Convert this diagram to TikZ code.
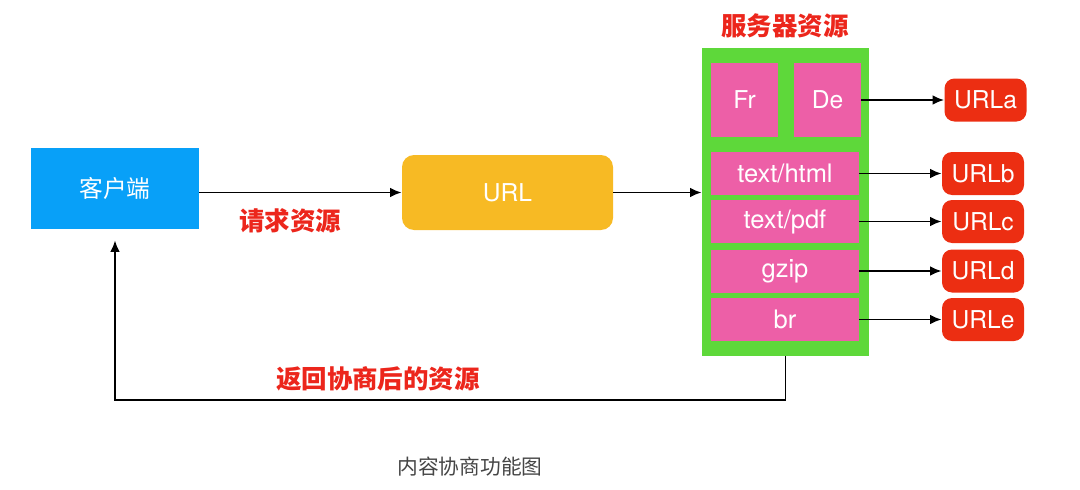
\documentclass[tikz,border=0pt]{standalone}
\usepackage{fontspec}
\setmainfont{TeX Gyre Heros}
\newfontfamily\cjk{Noto Sans CJK SC}
\usetikzlibrary{arrows.meta}

\definecolor{clientblue}{RGB}{8,160,248}
\definecolor{urlyellow}{RGB}{247,186,36}
\definecolor{servergreen}{RGB}{94,216,58}
\definecolor{typepink}{RGB}{237,95,167}
\definecolor{urlred}{RGB}{236,46,18}
\definecolor{labelred}{RGB}{236,38,28}
\definecolor{captiongray}{RGB}{70,70,70}

\begin{document}
\begin{tikzpicture}[x=0.02cm, y=-0.02cm,
    box/.style={inner sep=0pt, text=white, font=\fontsize{14}{16}\selectfont},
    typebox/.style={box, fill=typepink, minimum width=148*0.02cm, minimum height=43*0.02cm, font=\fontsize{14.5}{16}\selectfont},
    urlbox/.style={box, fill=urlred, rounded corners=0.2cm, minimum width=82*0.02cm, minimum height=43*0.02cm},
    redlabel/.style={text=labelred, font=\cjk\bfseries\fontsize{14.5}{16}\selectfont},
    link/.style={line width=1.1pt, -{Latex[length=6.5pt,width=5.5pt]}}]
    \useasboundingbox (0,0) rectangle (1080,490);

    \node[box, fill=clientblue, minimum width=168*0.02cm, minimum height=81*0.02cm, font=\cjk\fontsize{13.5}{16}\selectfont] (client) at (115,188.5) {客户端};
    \node[box, fill=urlyellow, rounded corners=0.24cm, minimum width=211*0.02cm, minimum height=75*0.02cm] (url) at (507.5,192.5) {URL};

    \node[fill=servergreen, inner sep=0pt, minimum width=167*0.02cm, minimum height=308*0.02cm] (server) at (785.5,202) {};
    \node[redlabel] (servertitle) at (785,26) {服务器资源};

    \node[box, fill=typepink, minimum width=67*0.02cm, minimum height=74*0.02cm] (fr) at (744.5,100) {Fr};
    \node[box, fill=typepink, minimum width=67*0.02cm, minimum height=74*0.02cm] (de) at (827.5,100) {De};
    \node[typebox] (html) at (785,173.5) {text/html};
    \node[typebox] (pdf) at (785,221.5) {text/pdf};
    \node[typebox] (gzip) at (785,271) {gzip};
    \node[typebox] (br) at (785,319.5) {br};

    \node[urlbox] (urla) at (985.5,100) {URLa};
    \node[urlbox] (urlb) at (983,173.5) {URLb};
    \node[urlbox] (urlc) at (983,221.5) {URLc};
    \node[urlbox] (urld) at (983,271) {URLd};
    \node[urlbox] (urle) at (983,319.5) {URLe};

    \node[redlabel] (request) at (290,221) {请求资源};
    \node[redlabel] (reply) at (378,379) {返回协商后的资源};
    \node[text=captiongray, font=\cjk\fontsize{11.8}{14}\selectfont] (caption) at (470,467) {内容协商功能图};

    \draw[link] (client.east |- url.west) -- (url.west);
    \draw[link] (url.east) -- (url.east -| server.west);
    \draw[link] (de.east) -- (urla.west);
    \draw[link] (html.east) -- (urlb.west);
    \draw[link] (pdf.east) -- (urlc.west);
    \draw[link] (gzip.east) -- (urld.west);
    \draw[link] (br.east) -- (urle.west);

    \coordinate (back) at (115,400);
    \draw[link, shorten >=0.22cm] (server.south) |- (back) -- (client.south);
\end{tikzpicture}
\end{document}
